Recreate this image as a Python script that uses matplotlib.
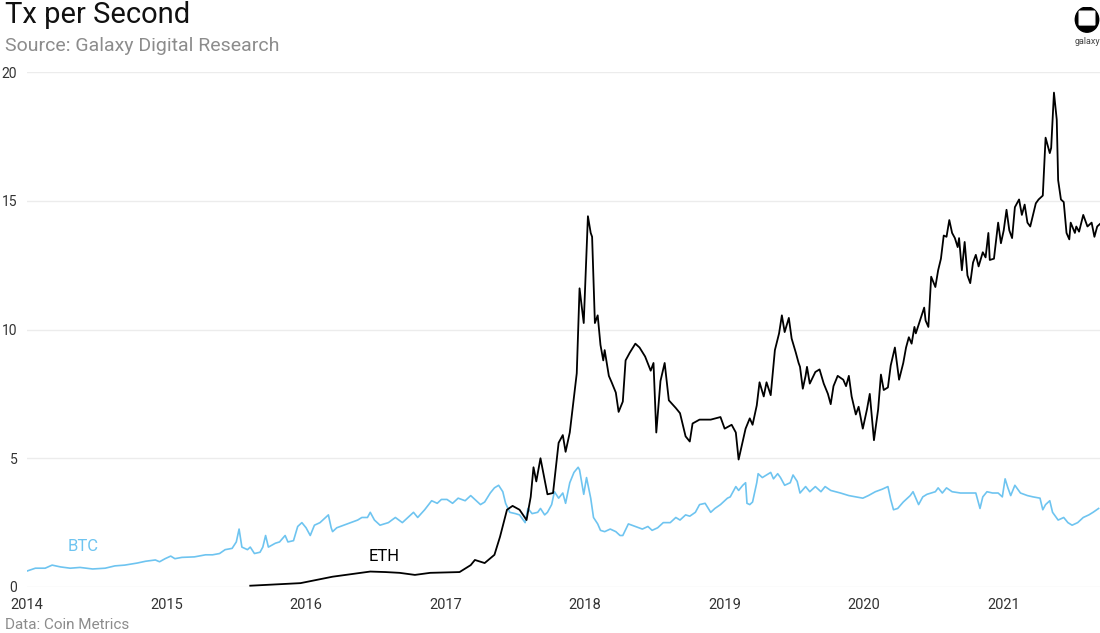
import matplotlib.pyplot as plt
from matplotlib.patches import Circle, FancyBboxPatch

plt.rcParams['font.family'] = ['Roboto', 'DejaVu Sans']

# ETH transactions per second (decimal year, value)
eth_t = [2015.60, 2015.96, 2016.19, 2016.39, 2016.46, 2016.57, 2016.67, 2016.78, 2016.89, 2017.10,
         2017.18, 2017.21, 2017.28, 2017.35, 2017.39, 2017.44, 2017.48, 2017.53, 2017.58, 2017.61,
         2017.63, 2017.65, 2017.68, 2017.73, 2017.77, 2017.81, 2017.84, 2017.86, 2017.89, 2017.94,
         2017.96, 2017.99, 2018.02, 2018.04, 2018.05, 2018.07, 2018.09, 2018.11, 2018.13, 2018.14,
         2018.17, 2018.19, 2018.22, 2018.24, 2018.27, 2018.29, 2018.32, 2018.36, 2018.39, 2018.43,
         2018.47, 2018.49, 2018.51, 2018.54, 2018.57, 2018.60, 2018.65, 2018.68, 2018.72, 2018.75,
         2018.77, 2018.82, 2018.90, 2018.97, 2019.00, 2019.05, 2019.08, 2019.10, 2019.15, 2019.18,
         2019.20, 2019.23, 2019.25, 2019.28, 2019.30, 2019.33, 2019.36, 2019.39, 2019.41, 2019.43,
         2019.46, 2019.48, 2019.51, 2019.53, 2019.54, 2019.56, 2019.58, 2019.59, 2019.61, 2019.65,
         2019.68, 2019.71, 2019.74, 2019.76, 2019.78, 2019.81, 2019.85, 2019.87, 2019.89, 2019.91,
         2019.94, 2019.96, 2019.99, 2020.02, 2020.04, 2020.07, 2020.10, 2020.12, 2020.14, 2020.17,
         2020.19, 2020.22, 2020.24, 2020.25, 2020.28, 2020.30, 2020.32, 2020.34, 2020.36, 2020.37,
         2020.40, 2020.43, 2020.44, 2020.46, 2020.48, 2020.51, 2020.53, 2020.55, 2020.57, 2020.59,
         2020.61, 2020.63, 2020.65, 2020.67, 2020.68, 2020.70, 2020.72, 2020.74, 2020.76, 2020.78,
         2020.80, 2020.82, 2020.85, 2020.87, 2020.89, 2020.90, 2020.93, 2020.96, 2020.98, 2021.00,
         2021.02, 2021.04, 2021.06, 2021.08, 2021.11, 2021.13, 2021.15, 2021.17, 2021.19, 2021.23,
         2021.25, 2021.28, 2021.30, 2021.33, 2021.34, 2021.36, 2021.38, 2021.39, 2021.41, 2021.43,
         2021.45, 2021.47, 2021.48, 2021.51, 2021.52, 2021.54, 2021.57, 2021.60, 2021.63, 2021.65,
         2021.67, 2021.69]
eth_v = [0.05, 0.15, 0.40, 0.55, 0.60, 0.58, 0.55, 0.47, 0.55, 0.58,
         0.85, 1.05, 0.93, 1.25, 1.95, 3.0, 3.15, 3.0, 2.6, 3.5,
         4.65, 4.1, 5.0, 3.6, 3.65, 5.6, 5.9, 5.25, 6.0, 8.3,
         11.6, 10.25, 14.4, 13.75, 13.6, 10.25, 10.55, 9.4, 8.8, 9.2,
         8.2, 7.95, 7.55, 6.8, 7.2, 8.8, 9.1, 9.45, 9.3, 8.95,
         8.4, 8.7, 6.0, 8.0, 8.7, 7.25, 6.95, 6.75, 5.85, 5.65,
         6.35, 6.5, 6.5, 6.6, 6.15, 6.3, 6.0, 4.95, 6.15, 6.55,
         6.3, 7.05, 7.95, 7.4, 7.95, 7.45, 9.2, 9.85, 10.55, 9.9,
         10.45, 9.65, 9.1, 8.7, 8.55, 7.7, 8.2, 8.55, 7.9, 8.35,
         8.45, 7.9, 7.5, 7.1, 7.8, 8.2, 8.05, 7.8, 8.2, 7.4,
         6.7, 7.0, 6.15, 6.9, 7.5, 5.7, 6.9, 8.25, 7.65, 7.75,
         8.6, 9.3, 8.45, 8.05, 8.7, 9.3, 9.7, 9.45, 10.1, 9.85,
         10.35, 10.85, 10.35, 10.1, 12.05, 11.65, 12.3, 12.75, 13.65, 13.6,
         14.25, 13.75, 13.55, 13.2, 13.55, 12.3, 13.4, 12.1, 11.8, 12.6,
         12.9, 12.45, 13.0, 12.8, 13.75, 12.7, 12.75, 14.15, 13.35, 13.85,
         14.65, 13.85, 13.55, 14.75, 15.05, 14.45, 14.85, 14.15, 14.0, 14.9,
         15.05, 15.2, 17.45, 16.85, 17.05, 19.2, 18.15, 15.8, 15.05, 14.95,
         13.75, 13.5, 14.15, 13.75, 14.0, 13.8, 14.45, 14.0, 14.15, 13.6,
         14.0, 14.1]

# BTC transactions per second (decimal year, value)
btc_t = [2014.00, 2014.06, 2014.13, 2014.18, 2014.24, 2014.31, 2014.38, 2014.47, 2014.56, 2014.63,
         2014.70, 2014.79, 2014.85, 2014.92, 2014.95, 2014.99, 2015.03, 2015.06, 2015.11, 2015.20,
         2015.28, 2015.33, 2015.38, 2015.42, 2015.47, 2015.50, 2015.52, 2015.54, 2015.58, 2015.60,
         2015.63, 2015.67, 2015.69, 2015.71, 2015.73, 2015.78, 2015.81, 2015.85, 2015.87, 2015.91,
         2015.94, 2015.97, 2016.00, 2016.03, 2016.06, 2016.10, 2016.14, 2016.16, 2016.18, 2016.19,
         2016.22, 2016.27, 2016.32, 2016.37, 2016.40, 2016.44, 2016.46, 2016.49, 2016.53, 2016.59,
         2016.64, 2016.69, 2016.73, 2016.77, 2016.80, 2016.85, 2016.90, 2016.94, 2016.97, 2017.01,
         2017.05, 2017.09, 2017.14, 2017.18, 2017.22, 2017.25, 2017.28, 2017.32, 2017.35, 2017.38,
         2017.41, 2017.43, 2017.46, 2017.50, 2017.53, 2017.57, 2017.59, 2017.62, 2017.66, 2017.68,
         2017.71, 2017.73, 2017.76, 2017.78, 2017.81, 2017.84, 2017.86, 2017.89, 2017.92, 2017.95,
         2017.96, 2017.99, 2018.01, 2018.04, 2018.06, 2018.09, 2018.11, 2018.14, 2018.18, 2018.22,
         2018.25, 2018.27, 2018.31, 2018.36, 2018.41, 2018.45, 2018.48, 2018.52, 2018.56, 2018.61,
         2018.65, 2018.68, 2018.72, 2018.75, 2018.79, 2018.82, 2018.86, 2018.90, 2018.93, 2018.97,
         2018.99, 2019.02, 2019.04, 2019.08, 2019.10, 2019.13, 2019.15, 2019.16, 2019.18, 2019.20,
         2019.23, 2019.24, 2019.27, 2019.30, 2019.33, 2019.35, 2019.38, 2019.40, 2019.43, 2019.47,
         2019.49, 2019.52, 2019.54, 2019.58, 2019.61, 2019.65, 2019.69, 2019.72, 2019.76, 2019.83,
         2019.89, 2019.94, 2019.99, 2020.03, 2020.08, 2020.13, 2020.17, 2020.19, 2020.21, 2020.24,
         2020.28, 2020.33, 2020.35, 2020.39, 2020.42, 2020.45, 2020.51, 2020.53, 2020.56, 2020.59,
         2020.63, 2020.69, 2020.75, 2020.80, 2020.83, 2020.85, 2020.88, 2020.92, 2020.96, 2020.99,
         2021.01, 2021.03, 2021.05, 2021.08, 2021.12, 2021.17, 2021.21, 2021.26, 2021.28, 2021.30,
         2021.33, 2021.35, 2021.39, 2021.43, 2021.46, 2021.49, 2021.53, 2021.57, 2021.61, 2021.64,
         2021.68]
btc_v = [0.62, 0.73, 0.73, 0.85, 0.78, 0.73, 0.76, 0.70, 0.73, 0.82,
         0.85, 0.93, 1.0, 1.05, 0.98, 1.1, 1.2, 1.1, 1.15, 1.17,
         1.25, 1.25, 1.3, 1.45, 1.5, 1.75, 2.25, 1.55, 1.45, 1.55,
         1.3, 1.35, 1.55, 2.0, 1.55, 1.7, 1.75, 2.0, 1.75, 1.8,
         2.35, 2.5, 2.3, 2.0, 2.4, 2.5, 2.7, 2.8, 2.3, 2.15,
         2.3, 2.4, 2.5, 2.6, 2.7, 2.7, 2.9, 2.6, 2.4, 2.5,
         2.7, 2.5, 2.7, 2.9, 2.7, 3.0, 3.35, 3.25, 3.4, 3.4,
         3.25, 3.45, 3.35, 3.55, 3.35, 3.2, 3.3, 3.65, 3.85, 3.95,
         3.7, 3.25, 2.9, 2.85, 2.8, 2.5, 3.05, 2.85, 2.9, 3.05,
         2.8, 2.9, 3.2, 3.7, 3.45, 3.65, 3.25, 4.05, 4.45, 4.65,
         4.55, 3.6, 4.25, 3.45, 2.7, 2.45, 2.2, 2.15, 2.25, 2.15,
         2.0, 2.0, 2.45, 2.35, 2.25, 2.35, 2.2, 2.3, 2.5, 2.5,
         2.7, 2.6, 2.8, 2.75, 2.9, 3.2, 3.25, 2.9, 3.05, 3.2,
         3.3, 3.45, 3.5, 3.9, 3.75, 3.95, 4.05, 3.25, 3.2, 3.3,
         4.05, 4.4, 4.25, 4.35, 4.45, 4.2, 4.4, 4.25, 3.95, 4.05,
         4.35, 4.1, 3.65, 3.9, 3.7, 3.9, 3.7, 3.9, 3.75, 3.65,
         3.55, 3.5, 3.45, 3.55, 3.7, 3.8, 3.9, 3.4, 3.0, 3.05,
         3.3, 3.55, 3.7, 3.2, 3.5, 3.6, 3.7, 3.85, 3.65, 3.85,
         3.7, 3.65, 3.65, 3.65, 3.05, 3.5, 3.7, 3.65, 3.65, 3.5,
         4.2, 3.85, 3.55, 3.95, 3.65, 3.55, 3.5, 3.45, 3.0, 3.2,
         3.35, 2.9, 2.6, 2.7, 2.5, 2.4, 2.5, 2.7, 2.8, 2.9,
         3.05]

years = [2014, 2015, 2016, 2017, 2018, 2019, 2020, 2021]
y_ticks = [0, 5, 10, 15, 20]

btc_color = '#6ec4f0'
text_dark = '#333333'
text_gray = '#8c8c8c'

fig = plt.figure(figsize=(11, 6.33), dpi=100)
ax = fig.add_axes([27 / 1100, 1 - 587 / 633, 1 - 27 / 1100, (587 - 72) / 633])

ax.plot(btc_t, btc_v, color=btc_color, linewidth=1.2)
ax.plot(eth_t, eth_v, color='black', linewidth=1.3)

ax.set_xlim(2014, 2021.69)
ax.set_ylim(0, 20)
ax.set_xticks(years)
ax.set_xticklabels([str(y) for y in years])
ax.set_yticks(y_ticks)
ax.tick_params(axis='both', length=0, labelsize=10.5, colors=text_dark)
ax.tick_params(axis='y', pad=7, labelsize=10)
ax.tick_params(axis='x', pad=8)
ax.grid(axis='y', color='#ececec', linewidth=1)
ax.set_axisbelow(True)
for s in ax.spines.values():
    s.set_visible(False)

ax.text(2014.29, 1.4, 'BTC', color=btc_color, fontsize=12)
ax.text(2016.45, 1.0, 'ETH', color='black', fontsize=12)

fig.text(5 / 1100, 1 - 15 / 633, 'Tx per Second', fontsize=21, color='#111111', va='center')
fig.text(5 / 1100, 1 - 46 / 633, 'Source: Galaxy Digital Research', fontsize=14,
         color=text_gray, va='center')
fig.text(5 / 1100, 1 - 625 / 633, 'Data: Coin Metrics', fontsize=11, color=text_gray, va='center')

# galaxy logo
lax = fig.add_axes([1074 / 1100, 1 - 35 / 633, 26 / 1100, 28 / 633])
lax.set_xlim(0, 1)
lax.set_ylim(0, 1)
lax.axis('off')
lax.add_patch(Circle((0.5, 0.55), 0.45, color='black'))
lax.add_patch(FancyBboxPatch((0.22, 0.38), 0.56, 0.45, boxstyle='round,pad=0.02',
                             color='white'))
fig.text(1087 / 1100, 1 - 42 / 633, 'galaxy', fontsize=6.5, color='#444444', ha='center',
         va='center')

fig.savefig('out.png', dpi=100)
